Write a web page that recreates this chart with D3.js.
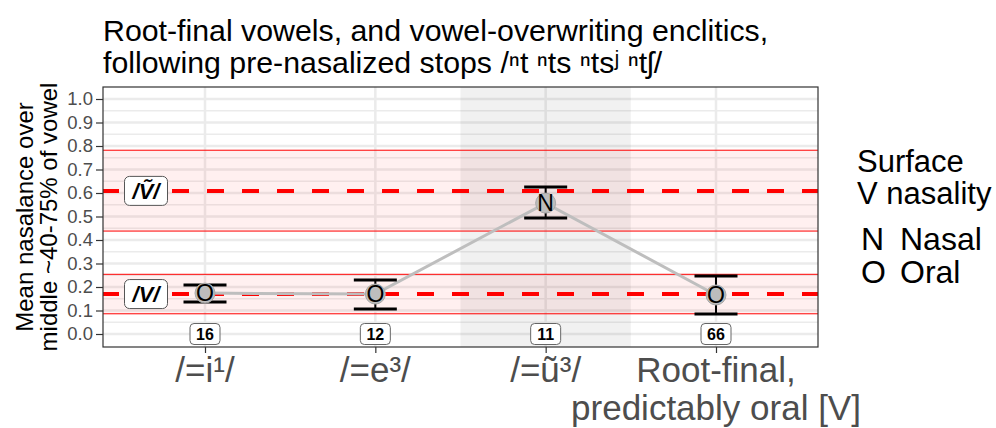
<!DOCTYPE html>
<html>
<head>
<meta charset="utf-8">
<script src="https://cdn.jsdelivr.net/npm/d3@7"></script>
<style>
  body { margin: 0; background: #fff; }
  text { font-family: "Liberation Sans", Arial, sans-serif; }
</style>
</head>
<body>
<div id="chart"></div>
<script>
var w = 996, h = 428;

// Data
var categories = ["/=i\u00b9/", "/=e\u00b3/", "/=\u0169\u00b3/", "Root-final,\npredictably oral [V]"];
var means = [0.174, 0.170, 0.557, 0.166];
var lower = [0.136, 0.106, 0.494, 0.085];
var upper = [0.209, 0.230, 0.626, 0.247];
var nasality = ["O", "O", "N", "O"];
var counts = [16, 12, 11, 66];
var refLabels = ["/\u1e7c/", "/V/"];
var refMeans = [0.609, 0.170];
var refLow = [0.438, 0.086];
var refHigh = [0.782, 0.254];
var yTicks = [0, 0.1, 0.2, 0.3, 0.4, 0.5, 0.6, 0.7, 0.8, 0.9, 1.0];
var yMinor = [0.05, 0.15, 0.25, 0.35, 0.45, 0.55, 0.65, 0.75, 0.85, 0.95];
var legendKeys = ["N", "O"];
var legendLabels = ["Nasal", "Oral"];

// Panel geometry
var panel = { left: 103, right: 818, top: 87, bottom: 347 };

var x = d3.scalePoint()
  .domain(categories)
  .range([205, 716]);

var y = d3.scaleLinear()
  .domain([0, 1])
  .range([334, 99]);

var step = x.step();

var svg = d3.select("#chart")
  .append("svg")
  .attr("width", w)
  .attr("height", h);

// Title
var title = svg.append("text")
  .attr("font-size", 30.3)
  .attr("fill", "#000");
title.append("tspan").attr("x", 103).attr("y", 41)
  .text("Root-final vowels, and vowel-overwriting enclitics,");
title.append("tspan").attr("x", 103).attr("y", 73)
  .text("following pre-nasalized stops /\u207ft \u207fts \u207fts\u02b2 \u207ft\u0283/");

// Panel background and grid
svg.append("rect")
  .attr("x", panel.left).attr("y", panel.top)
  .attr("width", panel.right - panel.left)
  .attr("height", panel.bottom - panel.top)
  .attr("fill", "#fff");

svg.selectAll(".minor")
  .data(yMinor)
  .enter().append("line")
  .attr("x1", panel.left).attr("x2", panel.right)
  .attr("y1", function(d) { return y(d); })
  .attr("y2", function(d) { return y(d); })
  .attr("stroke", "#ebebeb")
  .attr("stroke-width", 1.5);

svg.selectAll(".major")
  .data(yTicks)
  .enter().append("line")
  .attr("x1", panel.left).attr("x2", panel.right)
  .attr("y1", function(d) { return y(d); })
  .attr("y2", function(d) { return y(d); })
  .attr("stroke", "#ebebeb")
  .attr("stroke-width", 2.5);

svg.selectAll(".vgrid")
  .data(categories)
  .enter().append("line")
  .attr("x1", function(d) { return x(d); })
  .attr("x2", function(d) { return x(d); })
  .attr("y1", panel.top).attr("y2", panel.bottom)
  .attr("stroke", "#ebebeb")
  .attr("stroke-width", 2.5);

// Shaded column behind the nasal enclitic
svg.append("rect")
  .attr("x", x(categories[2]) - step / 2)
  .attr("y", panel.top)
  .attr("width", step)
  .attr("height", panel.bottom - panel.top)
  .attr("fill", "#000")
  .attr("fill-opacity", 0.055);

// Reference bands for /Ṽ/ and /V/
svg.selectAll(".band")
  .data(refMeans)
  .enter().append("rect")
  .attr("x", panel.left)
  .attr("width", panel.right - panel.left)
  .attr("y", function(d, i) { return y(refHigh[i]); })
  .attr("height", function(d, i) { return y(refLow[i]) - y(refHigh[i]); })
  .attr("fill", "red")
  .attr("fill-opacity", 0.06);

var bandEdges = refLow.concat(refHigh);
svg.selectAll(".edge")
  .data(bandEdges)
  .enter().append("line")
  .attr("x1", panel.left).attr("x2", panel.right)
  .attr("y1", function(d) { return y(d); })
  .attr("y2", function(d) { return y(d); })
  .attr("stroke", "red")
  .attr("stroke-width", 1);

svg.selectAll(".refmean")
  .data(refMeans)
  .enter().append("line")
  .attr("x1", panel.left).attr("x2", panel.right)
  .attr("y1", function(d) { return y(d); })
  .attr("y2", function(d) { return y(d); })
  .attr("stroke", "red")
  .attr("stroke-width", 4)
  .attr("stroke-dasharray", "17,18")
  .attr("stroke-dashoffset", 1);

// Labels on the reference lines
var refG = svg.selectAll(".reflab")
  .data(refMeans)
  .enter().append("g")
  .attr("transform", function(d) { return "translate(146," + y(d) + ")"; });
refG.append("rect")
  .attr("x", -21.5).attr("y", -14.5)
  .attr("width", 43).attr("height", 29)
  .attr("rx", 5)
  .attr("fill", "#fff")
  .attr("stroke", "#555")
  .attr("stroke-width", 1);
refG.append("text")
  .attr("text-anchor", "middle")
  .attr("dy", "0.36em")
  .attr("font-size", 22)
  .attr("font-weight", "bold")
  .attr("font-style", "italic")
  .text(function(d, i) { return refLabels[i]; });

// Connecting line
var line = d3.line()
  .x(function(d, i) { return x(categories[i]); })
  .y(function(d) { return y(d); });

svg.append("path")
  .datum(means)
  .attr("d", line)
  .attr("fill", "none")
  .attr("stroke", "#bebebe")
  .attr("stroke-width", 3);

// Error bars
var eb = svg.selectAll(".eb")
  .data(means)
  .enter().append("g");
eb.append("line")
  .attr("x1", function(d, i) { return x(categories[i]); })
  .attr("x2", function(d, i) { return x(categories[i]); })
  .attr("y1", function(d, i) { return y(lower[i]); })
  .attr("y2", function(d, i) { return y(upper[i]); })
  .attr("stroke", "#000").attr("stroke-width", 2);
eb.append("line")
  .attr("x1", function(d, i) { return x(categories[i]) - 21.5; })
  .attr("x2", function(d, i) { return x(categories[i]) + 21.5; })
  .attr("y1", function(d, i) { return y(lower[i]); })
  .attr("y2", function(d, i) { return y(lower[i]); })
  .attr("stroke", "#000").attr("stroke-width", 3);
eb.append("line")
  .attr("x1", function(d, i) { return x(categories[i]) - 21.5; })
  .attr("x2", function(d, i) { return x(categories[i]) + 21.5; })
  .attr("y1", function(d, i) { return y(upper[i]); })
  .attr("y2", function(d, i) { return y(upper[i]); })
  .attr("stroke", "#000").attr("stroke-width", 3);

// Points with nasality letters
svg.selectAll(".pt")
  .data(means)
  .enter().append("circle")
  .attr("cx", function(d, i) { return x(categories[i]); })
  .attr("cy", function(d) { return y(d); })
  .attr("r", 10)
  .attr("fill", "#bdbdbd")
  .attr("stroke", "#a8a8a8")
  .attr("stroke-width", 1);

svg.selectAll(".letter")
  .data(means)
  .enter().append("text")
  .attr("x", function(d, i) { return x(categories[i]); })
  .attr("y", function(d) { return y(d); })
  .attr("dy", "0.36em")
  .attr("text-anchor", "middle")
  .attr("font-size", 23)
  .text(function(d, i) { return nasality[i]; });

// Count labels at y = 0
var cg = svg.selectAll(".count")
  .data(counts)
  .enter().append("g")
  .attr("transform", function(d, i) { return "translate(" + x(categories[i]) + "," + y(0) + ")"; });
cg.append("rect")
  .attr("x", -15).attr("y", -10.5)
  .attr("width", 30).attr("height", 21)
  .attr("rx", 4)
  .attr("fill", "#fff")
  .attr("stroke", "#666")
  .attr("stroke-width", 1);
cg.append("text")
  .attr("text-anchor", "middle")
  .attr("dy", "0.36em")
  .attr("font-size", 16)
  .attr("font-weight", "bold")
  .text(function(d) { return d; });

// Panel border
svg.append("rect")
  .attr("x", panel.left).attr("y", panel.top)
  .attr("width", panel.right - panel.left)
  .attr("height", panel.bottom - panel.top)
  .attr("fill", "none")
  .attr("stroke", "#333")
  .attr("stroke-width", 1.2);

// Y axis
var yAxis = d3.axisLeft(y)
  .tickValues(yTicks)
  .tickFormat(d3.format(".1f"))
  .tickSize(7)
  .tickPadding(3);

var yG = svg.append("g")
  .attr("transform", "translate(" + panel.left + ",0)")
  .call(yAxis);
yG.select(".domain").remove();
yG.selectAll(".tick line").attr("stroke", "#333").attr("stroke-width", 1.2);
yG.selectAll(".tick text")
  .attr("font-size", 18.5)
  .attr("fill", "#4d4d4d")
  .attr("font-family", "Liberation Sans, Arial, sans-serif");

// X axis
var xAxis = d3.axisBottom(x)
  .tickSize(6)
  .tickFormat("");

var xG = svg.append("g")
  .attr("transform", "translate(0," + panel.bottom + ")")
  .call(xAxis);
xG.select(".domain").remove();
xG.selectAll(".tick line").attr("stroke", "#333").attr("stroke-width", 1.2);

svg.selectAll(".xlab")
  .data(categories)
  .enter().append("text")
  .attr("x", function(d) { return x(d); })
  .attr("y", 382)
  .attr("text-anchor", "middle")
  .attr("font-size", 35)
  .attr("fill", "#4d4d4d")
  .each(function(d) {
    var parts = d.split("\n");
    var t = d3.select(this);
    parts.forEach(function(p, k) {
      t.append("tspan")
        .attr("x", x(d))
        .attr("dy", k === 0 ? 0 : 38)
        .text(p);
    });
  });

// Y axis title
var yTitle = svg.append("text")
  .attr("transform", "translate(0,217) rotate(-90)")
  .attr("text-anchor", "middle")
  .attr("font-size", 24);
yTitle.append("tspan").attr("x", 0).attr("y", 33).text("Mean nasalance over");
yTitle.append("tspan").attr("x", 0).attr("y", 57).text("middle ~40-75% of vowel");

// Legend
var legend = svg.append("g");
legend.append("text").attr("x", 857).attr("y", 172).attr("font-size", 31).text("Surface");
legend.append("text").attr("x", 857).attr("y", 204).attr("font-size", 31).text("V nasality");

legend.selectAll(".lk")
  .data(legendKeys)
  .enter().append("text")
  .attr("x", 861)
  .attr("y", function(d, i) { return 250 + i * 33; })
  .attr("font-size", 32)
  .text(function(d) { return d; });

legend.selectAll(".ll")
  .data(legendLabels)
  .enter().append("text")
  .attr("x", 900)
  .attr("y", function(d, i) { return 250 + i * 33; })
  .attr("font-size", 32)
  .text(function(d) { return d; });
</script>
</body>
</html>
